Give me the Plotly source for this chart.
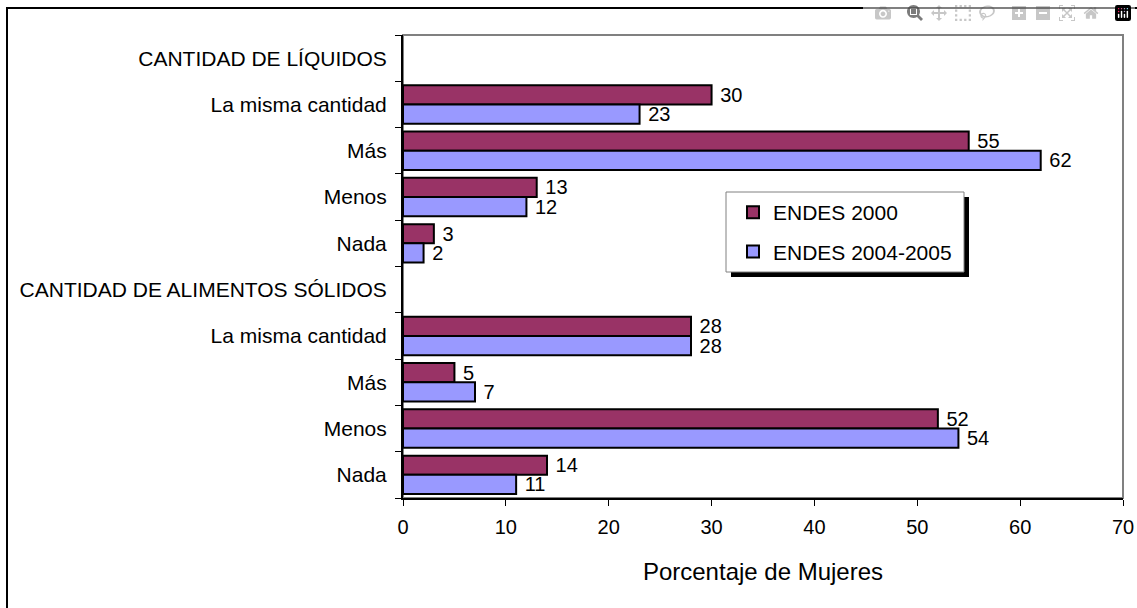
import plotly.graph_objects as go

categories = ["CANTIDAD DE LÍQUIDOS", "La misma cantidad", "Más", "Menos", "Nada",
              "CANTIDAD DE ALIMENTOS SÓLIDOS", "La misma cantidad", "Más", "Menos", "Nada"]
endes_2000 = [None, 30, 55, 13, 3, None, 28, 5, 52, 14]
endes_2004_2005 = [None, 23, 62, 12, 2, None, 28, 7, 54, 11]
series_names = ["ENDES 2000", "ENDES 2004-2005"]
colors = ["#993366", "#9999FF"]
x_ticks = [0, 10, 20, 30, 40, 50, 60, 70]

rows = list(range(len(categories)))
W, H = 1137, 608
L, T = 403, 35
R = W - 1123
B = H - 498
pw, ph = W - L - R, H - T - B


def px(x):  # page pixel -> paper
    return (x - L) / pw


def py(y):
    return (H - B - y) / ph


FONT = "Liberation Sans, Arial, sans-serif"

fig = go.Figure()
for i, (name, vals, c) in enumerate(zip(series_names, [endes_2000, endes_2004_2005], colors)):
    fig.add_trace(go.Bar(
        y=rows, x=vals, orientation="h", name=name, legendgroup=f"g{i}",
        marker=dict(color=c, line=dict(color="black", width=2)),
        text=[("" if v is None else " " + str(v)) for v in vals],
        textposition="outside", cliponaxis=False, constraintext="none",
        textfont=dict(family=FONT, size=20, color="black"),
    ))

shapes = [
    dict(type="rect", xref="paper", yref="paper", x0=0, x1=1, y0=0, y1=1,
         line=dict(color="#808080", width=2), layer="below"),
    dict(type="line", xref="paper", yref="paper", x0=px(6), x1=px(1137), y0=py(8), y1=py(8),
         line=dict(color="black", width=2)),
    dict(type="line", xref="paper", yref="paper", x0=px(7), x1=px(7), y0=py(8), y1=py(608),
         line=dict(color="black", width=2)),
    dict(type="rect", xref="paper", yref="paper", x0=px(731), x1=px(969), y0=py(197), y1=py(277),
         line=dict(width=0), fillcolor="black"),
    dict(type="rect", xref="paper", yref="paper", x0=px(726), x1=px(964), y0=py(192), y1=py(272),
         line=dict(color="#808080", width=1), fillcolor="white"),
]

fig.update_layout(
    width=W, height=H,
    margin=dict(l=L, r=R, t=T, b=B, autoexpand=False),
    paper_bgcolor="white", plot_bgcolor="white",
    barmode="group", bargap=0.17, bargroupgap=0,
    font=dict(family=FONT, size=20, color="black"),
    showlegend=True,
    legend=dict(x=px(733), y=py(192), xanchor="left", yanchor="top",
                bgcolor="rgba(0,0,0,0)", borderwidth=0, traceorder="grouped",
                font=dict(size=21), tracegroupgap=9, itemwidth=30),
    shapes=shapes,
    xaxis=dict(range=[0, 70], tickvals=x_ticks, showgrid=False, zeroline=False,
               automargin=False,
               showline=True, linecolor="black", linewidth=2,
               ticks="outside", ticklen=6, tickcolor="black", tickwidth=1,
               tickfont=dict(size=20), ticklabelstandoff=4, ticklabeloverflow="allow",
               title=dict(text="Porcentaje de Mujeres", font=dict(size=24), standoff=26)),
    yaxis=dict(range=[9.5, -0.5], tickvals=rows, ticktext=categories, showgrid=False,
               automargin=False,
               zeroline=False, showline=True, linecolor="black", linewidth=2,
               ticks="", ticklen=0, tickfont=dict(size=21), ticklabelstandoff=10,
               minor=dict(tickvals=[r + 0.5 for r in range(-1, 10)], ticks="outside",
                          ticklen=6, tickcolor="black", tickwidth=1, showgrid=False)),
)

fig.write_html("out.html",
               post_script="document.body.style.margin='0';document.body.style.overflow='hidden';")
